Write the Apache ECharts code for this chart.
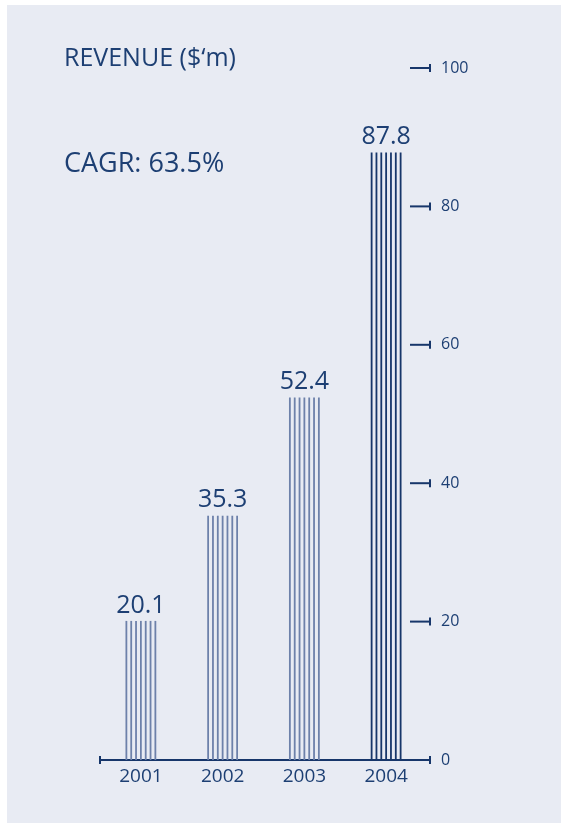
<!DOCTYPE html>
<html>
<head>
<meta charset="utf-8">
<script src="https://cdn.jsdelivr.net/npm/echarts@6/dist/echarts.min.js"></script>
<style>
  html, body { margin: 0; padding: 0; background: #fff; }
  #chart { position: absolute; left: 7px; top: 5px; width: 554px; height: 818px; background: #e8ebf3; }
</style>
</head>
<body>
<div id="chart"></div>
<script>
const years = ["2001", "2002", "2003", "2004"];
const revenue = [20.1, 35.3, 52.4, 87.8];
const barColors = ["#6d81aa", "#6d81aa", "#6d81aa", "#17366a"];
const tickValues = [0, 20, 40, 60, 80, 100];

const textColor = "#1d3f73";
const fontFamily = "'Open Sans', 'Noto Sans', sans-serif";

const chart = echarts.init(document.getElementById("chart"));

// seven thin vertical lines per bar plus the value on top
const renderBar = (params, api) => {
  const i = api.value(0);
  const v = api.value(1);
  const top = api.coord([i, v]);
  const base = api.coord([i, 0]);
  const half = 14.5;
  const children = [];
  for (let k = 0; k < 7; k++) {
    const x = top[0] - half + (2 * half * k) / 6;
    children.push({
      type: "line",
      shape: { x1: x, y1: top[1], x2: x, y2: base[1] },
      style: { stroke: barColors[i], lineWidth: 1.8 },
    });
  }
  children.push({
    type: "text",
    style: {
      text: v.toFixed(1),
      x: top[0],
      y: top[1] - 3,
      align: "center",
      verticalAlign: "bottom",
      fill: textColor,
      font: "25px " + fontFamily,
    },
  });
  return { type: "group", children };
};

// tick marks on the right: short line with a small end cap
const renderTick = (params, api) => {
  const v = api.value(0);
  const cs = params.coordSys;
  const y = api.coord([0, v])[1];
  const right = cs.x + cs.width + 3;
  const children = [
    {
      type: "line",
      shape: { x1: v === 0 ? cs.x : right - 20, y1: y, x2: right, y2: y },
      style: { stroke: "#17366a", lineWidth: 2 },
    },
    {
      type: "line",
      shape: { x1: right, y1: y - 4, x2: right, y2: y + 4 },
      style: { stroke: "#17366a", lineWidth: 2 },
    },
  ];
  if (v === 0) {
    children.push({
      type: "line",
      shape: { x1: cs.x, y1: y - 4, x2: cs.x, y2: y + 4 },
      style: { stroke: "#17366a", lineWidth: 2 },
    });
  }
  return { type: "group", children };
};

chart.setOption({
  animation: false,
  title: [
    {
      text: "REVENUE ($‘m)",
      left: 52,
      top: 36,
      textStyle: { color: textColor, fontSize: 25, fontWeight: "normal", fontFamily },
    },
    {
      text: "CAGR: 63.5%",
      left: 52,
      top: 141,
      textStyle: { color: textColor, fontSize: 27, fontWeight: "normal", fontFamily },
    },
  ],
  grid: { left: 93, right: 134, top: 63, bottom: 63 },
  xAxis: {
    type: "category",
    data: years,
    axisLine: { show: false },
    axisTick: { show: false },
    axisLabel: { color: textColor, fontSize: 19, margin: 7, fontFamily },
  },
  yAxis: {
    type: "value",
    position: "right",
    min: 0,
    max: 100,
    interval: 20,
    splitLine: { show: false },
    axisLine: { show: false },
    axisTick: { show: false },
    axisLabel: { color: textColor, fontSize: 16, margin: 14, fontFamily },
  },
  series: [
    {
      type: "custom",
      renderItem: renderTick,
      data: tickValues.map((t) => [t]),
      encode: { y: 0 },
      silent: true,
      z: 1,
    },
    {
      type: "custom",
      renderItem: renderBar,
      data: revenue.map((v, i) => [i, v]),
      encode: { x: 0, y: 1 },
      z: 2,
    },
  ],
});
</script>
</body>
</html>
